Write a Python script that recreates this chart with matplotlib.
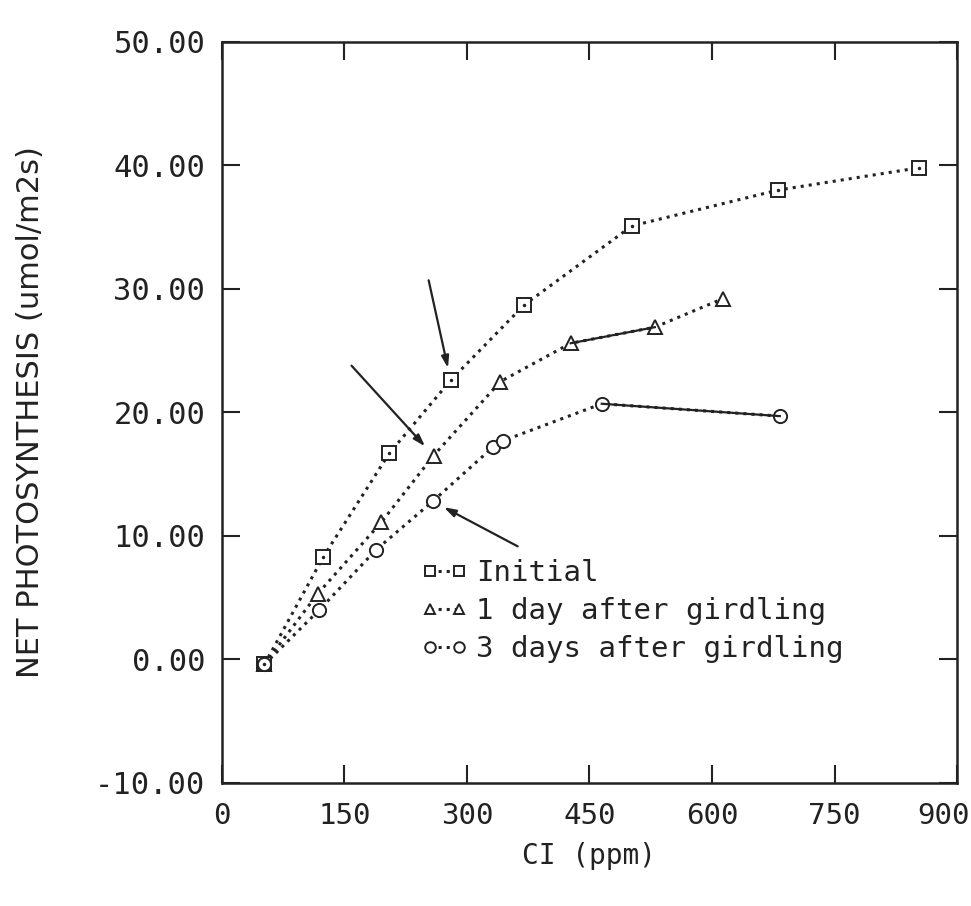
import matplotlib
matplotlib.use("Agg")
import matplotlib.pyplot as plt
import matplotlib.transforms as mtransforms

# ---- data ----
ci_initial = [52, 124, 205, 280, 370, 502, 681, 853]
ps_initial = [-0.4, 8.3, 16.7, 22.6, 28.7, 35.1, 38.0, 39.8]

ci_day1 = [52, 117, 195, 259, 341, 427, 530, 613]
ps_day1 = [-0.4, 5.3, 11.1, 16.5, 22.5, 25.6, 26.9, 29.2]

ci_day3 = [52, 119, 189, 258, 332, 344, 465, 683]
ps_day3 = [-0.4, 4.0, 8.9, 12.8, 17.2, 17.7, 20.7, 19.7]

labels = ["Initial", "1 day after girdling", "3 days after girdling"]
xticks = [0, 150, 300, 450, 600, 750, 900]
yticks = [-10, 0, 10, 20, 30, 40, 50]

ink = "#222222"
mono = ["DejaVu Sans Mono"]

fig = plt.figure(figsize=(9.71, 9.06), dpi=100)
ax = fig.add_axes([0.2286, 0.1358, 0.757, 0.818])

ms = 9.5
common = dict(color=ink, markerfacecolor="white", markeredgecolor=ink,
              markeredgewidth=1.4, markersize=ms, lw=2.2)

# Initial (squares)
ax.plot(ci_initial, ps_initial, ls=":", marker="s", label=labels[0], **common)
# 1 day (triangles)
ax.plot(ci_day1, ps_day1, ls=":", marker="^", label=labels[1], **common)
ax.plot(ci_day1[5:7], ps_day1[5:7], ls="-", lw=1.6, color=ink)
# 3 days (circles)
ax.plot(ci_day3, ps_day3, ls=":", marker="o", label=labels[2], **common)
ax.plot(ci_day3[6:8], ps_day3[6:8], ls="-", lw=1.6, color=ink)

# small centre dots in the square markers
ax.plot(ci_initial, ps_initial, ls="none", marker=".", markersize=3, color=ink)

# arrows
arrow = dict(arrowstyle="-|>,head_length=0.7,head_width=0.22", color=ink,
             lw=1.6, shrinkA=0, shrinkB=9)
ax.annotate("", xy=(ci_initial[3], ps_initial[3]), xytext=(-22, 100),
            textcoords="offset pixels", arrowprops=arrow)
ax.annotate("", xy=(ci_day1[3], ps_day1[3]), xytext=(-82, 90),
            textcoords="offset pixels", arrowprops=arrow)
ax.annotate("", xy=(ci_day3[3], ps_day3[3]), xytext=(85, -45),
            textcoords="offset pixels", arrowprops=arrow)

ax.set_xlim(0, 900)
ax.set_ylim(-10, 50)
ax.set_xticks(xticks)
ax.set_yticks(yticks)
ax.set_xticklabels([str(v) for v in xticks], family=mono, fontsize=21, color=ink)
ax.set_yticklabels([f"{v:.2f}" for v in yticks], family=mono, fontsize=22, color=ink)
ax.tick_params(direction="in", length=13, width=1.5, top=True, right=True,
               colors=ink, pad=12)
ax.tick_params(axis="x", pad=14)
for s in ax.spines.values():
    s.set_linewidth(1.8)
    s.set_color(ink)

# nudge the last x label so it stays inside the figure
last = ax.get_xticklabels()[-1]
last.set_transform(last.get_transform() +
                   mtransforms.ScaledTranslation(-14 / 100, 0, fig.dpi_scale_trans))

ax.set_xlabel("CI (ppm)", family=mono, fontsize=20, color=ink, labelpad=8)
ax.set_ylabel("NET PHOTOSYNTHESIS (umol/m2s)", family=["DejaVu Sans"],
              fontsize=22, color=ink, labelpad=36)

leg = ax.legend(loc="upper left", bbox_to_anchor=(0.255, 0.318), frameon=False,
                prop={"family": "DejaVu Sans Mono", "size": 21},
                handlelength=1.6, numpoints=2, handletextpad=0.3,
                labelspacing=0.35, markerscale=0.8, borderaxespad=0)
for t in leg.get_texts():
    t.set_color(ink)

fig.savefig("out.png", dpi=100, facecolor="white")
